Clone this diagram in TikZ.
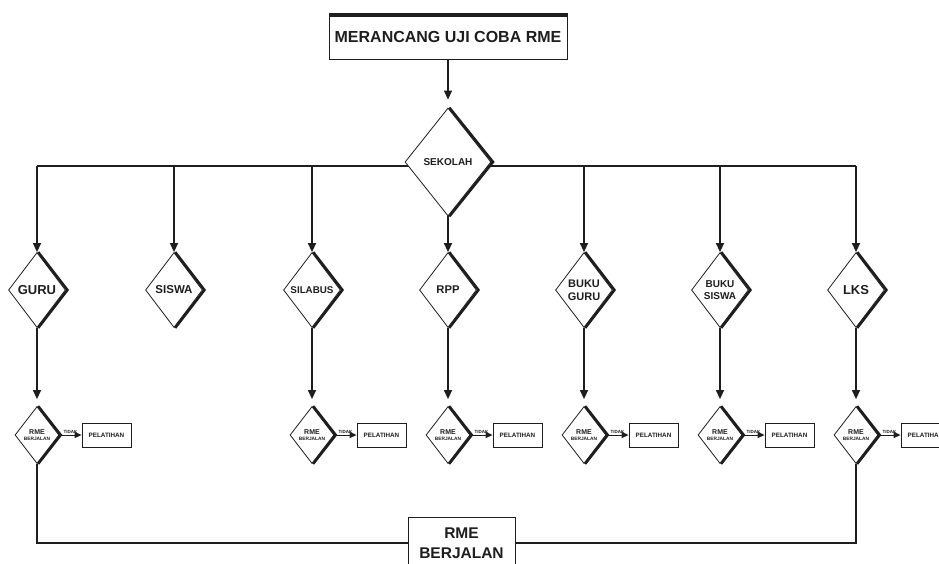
\documentclass[tikz,border=0pt]{standalone}
\usepackage{fontspec}
\setmainfont{Liberation Sans}
\usetikzlibrary{shapes.geometric,arrows.meta}
\definecolor{ink}{HTML}{1E1E1E}
\begin{document}
\begin{tikzpicture}[x=1pt,y=-1pt,
  ln/.style={line width=1.3pt,draw=ink},
  arr/.style={ln,-{Triangle[length=9pt,width=8pt]}},
  dia/.style={diamond,draw=ink,text=ink,line width=0.8pt,fill=white,inner sep=0pt,align=center,font=\bfseries},
  bigdia/.style={dia,minimum width=57pt,minimum height=75pt},
  smdia/.style={dia,minimum width=44pt,minimum height=57pt,font=\bfseries\fontsize{5}{6}\selectfont},
  pbox/.style={draw=ink,text=ink,line width=0.8pt,fill=white,minimum width=49pt,minimum height=24pt,inner sep=0pt,font=\bfseries\fontsize{6.3}{7}\selectfont},
  tlab/.style={font=\bfseries\fontsize{4.5}{5}\selectfont,text=ink,inner sep=1pt,above},
  shade/.style={line width=2.6pt,draw=ink,line join=miter,line cap=butt},
]
\useasboundingbox (0,0) rectangle (939,563);
\clip (0,0) rectangle (939,563);

% title
\node[draw=ink,line width=1pt,minimum width=238pt,minimum height=45pt,inner sep=0pt,
      font=\bfseries\fontsize{16}{18}\selectfont,text=ink] (title) at (448,36.5) {MERANCANG UJI COBA RME};
\draw[line width=3.5pt,draw=ink] ([yshift=-1.5pt]title.north west) -- ([yshift=-1.5pt]title.north east);

% horizontal distribution line
\coordinate (h1) at (37,166);
\coordinate (h2) at (174,166);
\coordinate (h3) at (312,166);
\coordinate (h4) at (448,166);
\coordinate (h5) at (584,166);
\coordinate (h6) at (720,166);
\coordinate (h7) at (856,166);
\draw[ln] (h1) -- (h7);

% SEKOLAH
\node[dia,minimum width=86pt,minimum height=108pt,font=\bfseries\fontsize{10}{12}\selectfont] (sek) at (448,162) {SEKOLAH};
\draw[shade] ([xshift=1.3pt]sek.north) -- ([xshift=1.6pt]sek.east) -- ([xshift=1.3pt]sek.south);
\draw[arr] (title.south) -- ([yshift=8pt]sek.north);

% second-row diamonds
\node[bigdia,font=\bfseries\fontsize{13}{14}\selectfont] (guru) at (37,290) {GURU};
\node[bigdia,font=\bfseries\fontsize{11.5}{13}\selectfont] (siswa) at (174,290) {SISWA};
\node[bigdia,font=\bfseries\fontsize{9.8}{12}\selectfont] (silabus) at (312,290) {SILABUS};
\node[bigdia,font=\bfseries\fontsize{11.2}{13}\selectfont] (rpp) at (448,290) {RPP};
\node[bigdia,font=\bfseries\fontsize{11}{13}\selectfont] (bguru) at (584,290) {BUKU\\GURU};
\node[bigdia,font=\bfseries\fontsize{10}{12}\selectfont] (bsiswa) at (720,290) {BUKU\\SISWA};
\node[bigdia,font=\bfseries\fontsize{13}{14}\selectfont] (lks) at (856,290) {LKS};
\foreach \n in {guru,siswa,silabus,rpp,bguru,bsiswa,lks}{
  \draw[shade] ([xshift=1.2pt]\n.north) -- ([xshift=1.5pt]\n.east) -- ([xshift=1.2pt]\n.south);
}
\draw[arr] (h1) -- (guru.north);
\draw[arr] (h2) -- (siswa.north);
\draw[arr] (h3) -- (silabus.north);
\draw[arr] (sek.south) -- (rpp.north);
\draw[arr] (h5) -- (bguru.north);
\draw[arr] (h6) -- (bsiswa.north);
\draw[arr] (h7) -- (lks.north);

% RME BERJALAN small diamonds
\foreach \n/\x in {r1/37,r2/312,r3/448,r4/584,r5/720,r6/856}{
  \node[smdia] (\n) at (\x,435) {{\fontsize{7}{6}\selectfont RME}\\[-0.5pt]{\fontsize{4.8}{5}\selectfont BERJALAN}};
  \draw[shade] ([xshift=1.1pt]\n.north) -- ([xshift=1.3pt]\n.east) -- ([xshift=1.1pt]\n.south);
  \node[pbox] (p\n) at (\x+69.5,435) {PELATIHAN};
  \draw[arr,line width=1pt,-{Triangle[length=7pt,width=6pt]}] (\n.east) -- node[tlab] {TIDAK} (p\n.west);
}
\draw[arr] (guru.south) -- ([yshift=7pt]r1.north);
\draw[arr] (silabus.south) -- ([yshift=7pt]r2.north);
\draw[arr] (rpp.south) -- ([yshift=7pt]r3.north);
\draw[arr] (bguru.south) -- ([yshift=7pt]r4.north);
\draw[arr] (bsiswa.south) -- ([yshift=7pt]r5.north);
\draw[arr] (lks.south) -- ([yshift=7pt]r6.north);

% final box
\node[draw=ink,line width=1pt,fill=white,minimum width=107pt,minimum height=52pt,inner sep=0pt,align=center,
      font=\bfseries\fontsize{15.5}{20}\selectfont,text=ink] (fin) at (461.5,543) {RME\\BERJALAN};
\draw[ln] (r1.south) |- (fin.west);
\draw[ln] (r6.south) |- (fin.east);
\end{tikzpicture}
\end{document}
